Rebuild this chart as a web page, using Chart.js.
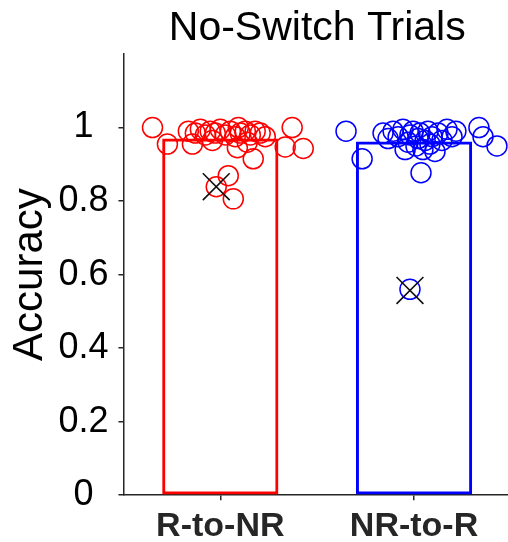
<!DOCTYPE html>
<html lang="en">
  <head>
    <meta charset="UTF-8" />
    <title>No-Switch Trials</title>
    <script src="https://cdn.jsdelivr.net/npm/chart.js@4.4.1/dist/chart.umd.min.js"></script>
    <style>
      body { margin: 0; background: #fff; }
    </style>
  </head>
  <body>
    <canvas id="chart" width="508" height="542"></canvas>
    <script>
      const categories = ['R-to-NR', 'NR-to-R']
      const categoryPos = [1, 2]
      const barValues = [0.97, 0.962]
      const colors = ['#ff0000', '#0000ff']

      // per-subject accuracy, x offset from the category centre (jitter)
      const rOffsets = [-0.35, -0.273, -0.144, -0.165, -0.129, -0.103, -0.077, -0.052, -0.026, 0,
        0.026, 0.052, 0.077, 0.093, 0.103, 0.129, 0.155, 0.18, 0.206, 0.232,
        0.088, 0.17, 0.371, 0.335, 0.428, 0.041, 0.067, -0.021, -0.041, 0.139]
      const rValues = [1.0, 0.955, 0.955, 0.99, 0.985, 0.995, 0.98, 0.99, 0.985, 0.995,
        0.98, 0.99, 0.975, 1.0, 0.985, 0.99, 0.98, 0.99, 0.985, 0.975,
        0.945, 0.915, 1.0, 0.947, 0.943, 0.869, 0.806, 0.839, 0.965, 0.96]
      const nOffsets = [-0.351, -0.268, 0.036, 0.335, 0.356, 0.428, -0.160, -0.134, -0.108, -0.082,
        -0.057, -0.031, -0.021, -0.005, 0.010, 0.021, 0.031, 0.046, 0.057, 0.072,
        0.082, 0.093, 0.108, 0.124, 0.144, 0.170, 0.196, 0.216, -0.021, -0.046]
      const nValues = [0.99, 0.915, 0.877, 1.0, 0.975, 0.95, 0.985, 0.97, 0.99, 0.975,
        0.995, 0.96, 0.98, 0.99, 0.95, 0.97, 0.985, 0.94, 0.965, 0.99,
        0.955, 0.975, 0.935, 0.985, 0.965, 0.995, 0.975, 0.99, 0.56, 0.94]

      // the X markers
      const markerOffsets = [-0.021, -0.021]
      const markerValues = [0.839, 0.557]

      const yTicks = [0, 0.2, 0.4, 0.6, 0.8, 1]

      const toPoints = (center, offs, vals) => offs.map((o, i) => ({ x: center + o, y: vals[i] }))

      const titlePlugin = {
        id: 'areaTitle',
        afterDraw(chart) {
          const { ctx, chartArea } = chart
          ctx.save()
          ctx.font = '41px "Liberation Sans", Arial, sans-serif'
          ctx.fillStyle = '#000'
          ctx.textAlign = 'center'
          ctx.textBaseline = 'alphabetic'
          ctx.fillText('No-Switch Trials', (chartArea.left + 511) / 2, 40)
          ctx.restore()
        },
      }

      const data = {
        datasets: [
          {
            type: 'scatter',
            data: markerOffsets.map((o, i) => ({ x: categoryPos[i] + o, y: markerValues[i] })),
            pointStyle: 'crossRot',
            pointRadius: 19,
            borderColor: '#111',
            borderWidth: 1.6,
            order: 1,
          },
          {
            type: 'scatter',
            data: toPoints(categoryPos[0], rOffsets, rValues),
            pointStyle: 'circle',
            pointRadius: 10,
            borderColor: colors[0],
            backgroundColor: 'rgba(0,0,0,0)',
            borderWidth: 1.5,
            order: 2,
          },
          {
            type: 'scatter',
            data: toPoints(categoryPos[1], nOffsets, nValues),
            pointStyle: 'circle',
            pointRadius: 10,
            borderColor: colors[1],
            backgroundColor: 'rgba(0,0,0,0)',
            borderWidth: 1.5,
            order: 2,
          },
          {
            type: 'bar',
            data: categoryPos.map((x, i) => ({ x: x, y: barValues[i] })),
            borderColor: colors,
            backgroundColor: 'rgba(255,255,255,0)',
            borderWidth: 3,
            borderSkipped: false,
            barPercentage: 0.6,
            categoryPercentage: 1,
            order: 3,
          },
        ],
      }

      const axisColor = '#262626'
      const config = {
        type: 'bar',
        data: data,
        plugins: [titlePlugin],
        options: {
          responsive: false,
          animation: false,
          events: [],
          layout: { autoPadding: false, padding: { top: 54, right: 0, left: 0, bottom: -11 } },
          plugins: { legend: { display: false }, tooltip: { enabled: false } },
          scales: {
            x: {
              type: 'linear',
              min: 0.5,
              max: 2.485,
              offset: false,
              afterBuildTicks: (scale) => {
                scale.ticks = categoryPos.map((v) => ({ value: v }))
              },
              ticks: {
                callback: (v) => categories[categoryPos.indexOf(v)],
                font: { family: '"Liberation Sans", Arial, sans-serif', size: 34, weight: 'bold' },
                color: '#262626',
                padding: 6,
                maxRotation: 0,
              },
              grid: { offset: false, drawOnChartArea: false, drawTicks: true, tickLength: 5, color: axisColor, lineWidth: 1.5 },
              border: { color: axisColor, width: 1.5 },
            },
            y: {
              min: 0,
              max: 1.2,
              afterBuildTicks: (scale) => {
                scale.ticks = yTicks.map((v) => ({ value: v }))
              },
              ticks: {
                callback: (v) => String(v),
                font: { family: '"Liberation Sans", Arial, sans-serif', size: 36 },
                color: '#000',
                crossAlign: 'center',
                padding: 10,
              },
              grid: { drawOnChartArea: false, drawTicks: true, tickLength: 5, color: axisColor, lineWidth: 1.5 },
              border: { color: axisColor, width: 1.5 },
              title: {
                display: true,
                text: 'Accuracy',
                font: { family: '"Liberation Sans", Arial, sans-serif', size: 42 },
                color: '#000',
                padding: { top: 5, bottom: -7 },
              },
            },
          },
        },
      }

      const chart = new Chart(document.getElementById('chart'), config)
    </script>
  </body>
</html>
